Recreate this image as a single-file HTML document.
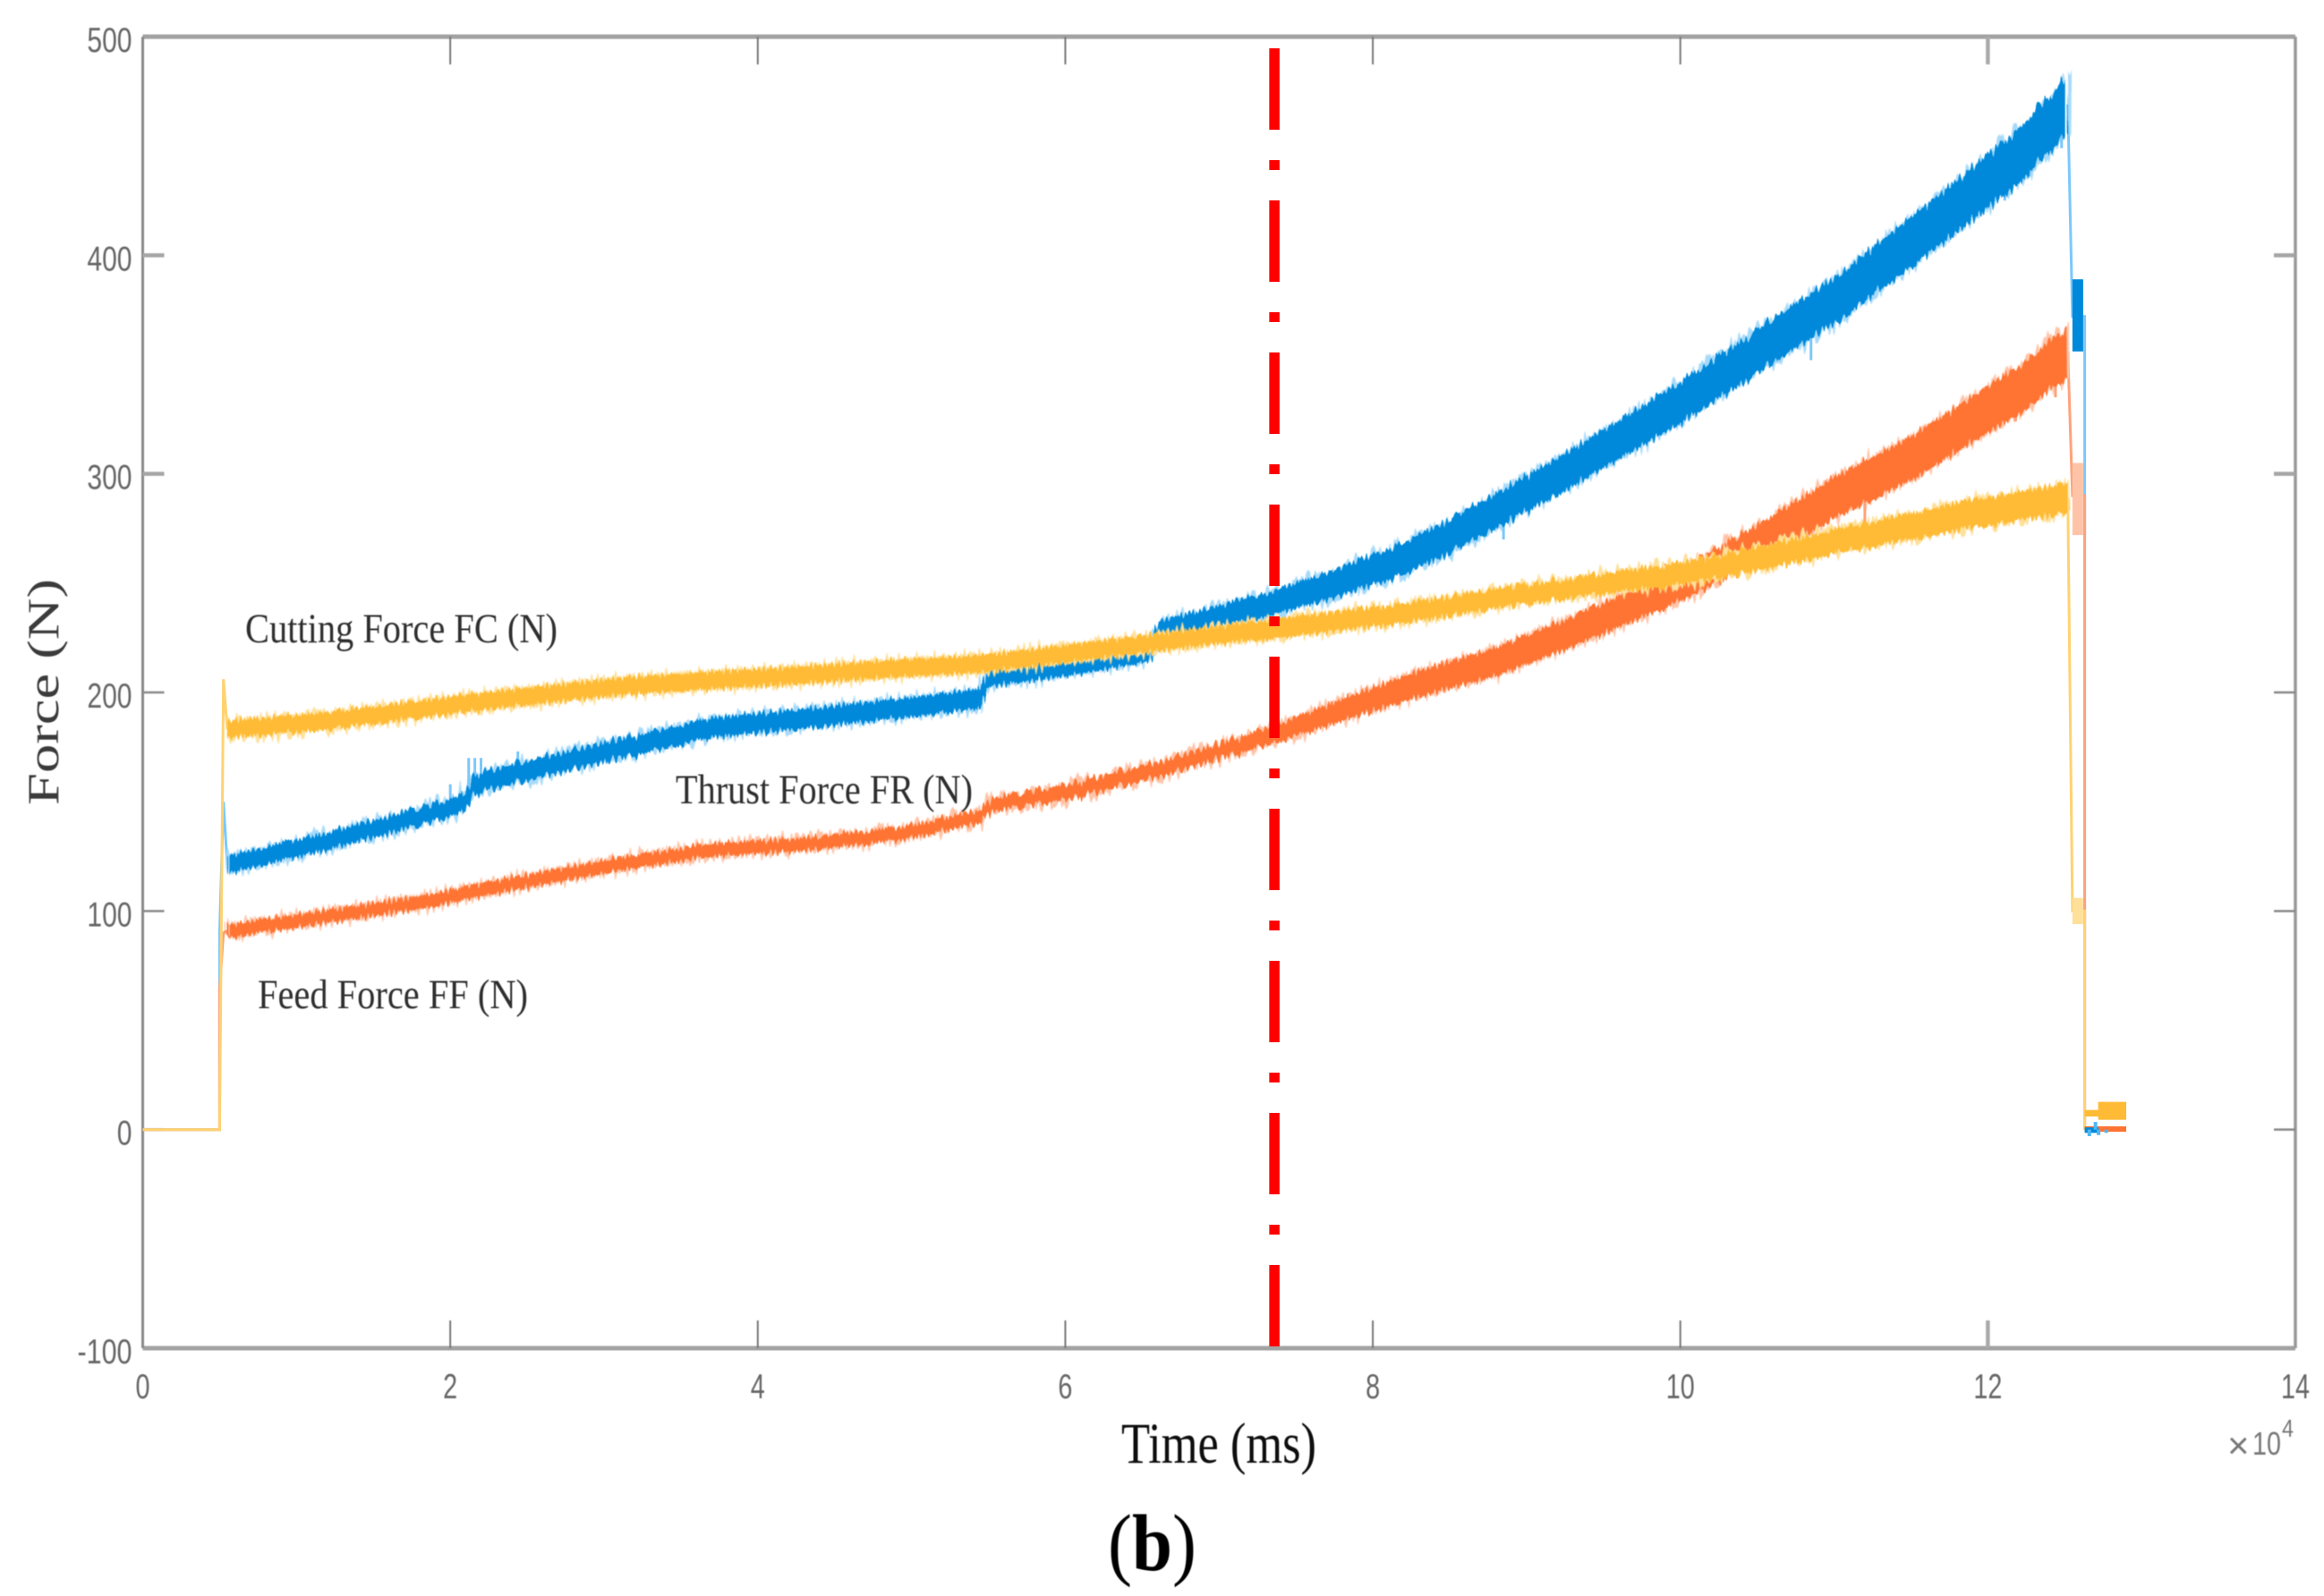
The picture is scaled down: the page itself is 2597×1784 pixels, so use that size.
<!DOCTYPE html>
<html lang="en">
<head>
<meta charset="utf-8">
<title>Force vs Time</title>
<style>
html,body{margin:0;padding:0;background:#fff;width:2597px;height:1784px;overflow:hidden}
svg{display:block;position:absolute;left:0;top:0}
.tick-label{font-family:"Liberation Sans",sans-serif;font-size:39px;fill:#666}
.serif{font-family:"Liberation Serif",serif}
</style>
</head>
<body>
<svg id="chart" xmlns="http://www.w3.org/2000/svg" width="2597" height="1784" viewBox="0 0 2597 1784">
  <defs>
    <filter id="jagCore" x="-2%" y="-8%" width="104%" height="116%" color-interpolation-filters="sRGB">
      <feTurbulence type="fractalNoise" baseFrequency="0.38 0.004" numOctaves="1" seed="4" result="n"/>
      <feDisplacementMap in="SourceGraphic" in2="n" scale="18" xChannelSelector="A" yChannelSelector="R"/>
      <feGaussianBlur stdDeviation="0.6"/>
    </filter>
    <filter id="jagFringe" x="-2%" y="-8%" width="104%" height="116%" color-interpolation-filters="sRGB">
      <feTurbulence type="fractalNoise" baseFrequency="0.3 0.004" numOctaves="1" seed="11" result="n"/>
      <feDisplacementMap in="SourceGraphic" in2="n" scale="30" xChannelSelector="A" yChannelSelector="G"/>
      <feGaussianBlur stdDeviation="0.8"/>
    </filter>
    <filter id="soft" x="-5%" y="-5%" width="110%" height="110%">
      <feGaussianBlur stdDeviation="0.6"/>
    </filter>
  </defs>
  <rect width="2597" height="1784" fill="#fff"/>
  <g id="axes" filter="url(#soft)"></g>
  <g id="marks"></g>
  <g id="labels" filter="url(#soft)"></g>
  <g id="marker"></g>
  <g filter="url(#soft)" class="serif">
    <text x="274" y="718" font-size="47" fill="#2d2d2d" textLength="349" lengthAdjust="spacingAndGlyphs">Cutting Force FC (N)</text>
    <text x="755" y="898" font-size="47" fill="#2d2d2d" textLength="332" lengthAdjust="spacingAndGlyphs">Thrust Force FR (N)</text>
    <text x="288" y="1127" font-size="47" fill="#2d2d2d" textLength="302" lengthAdjust="spacingAndGlyphs">Feed Force FF (N)</text>
    <text transform="translate(65 900) rotate(-90)" font-size="50" fill="#3a3a3a" textLength="253" lengthAdjust="spacingAndGlyphs">Force (N)</text>
    <text x="1253" y="1635" font-size="65" fill="#111" textLength="218" lengthAdjust="spacingAndGlyphs">Time (ms)</text>
    <text x="1238" y="1755" font-size="90" fill="#000" textLength="99" lengthAdjust="spacingAndGlyphs">(<tspan font-weight="bold">b</tspan>)</text>
  </g>
  <g filter="url(#soft)" font-family="'Liberation Sans',sans-serif" fill="#777">
    <text x="2489" y="1630" font-size="42">×</text>
    <text x="2517" y="1626" font-size="36" textLength="32" lengthAdjust="spacingAndGlyphs">10</text>
    <text x="2550" y="1606" font-size="28" textLength="13" lengthAdjust="spacingAndGlyphs">4</text>
  </g>
</svg>
<script>
// ---- Data (time in units of 1e4 ms, force in N) ----
const timeGrid = [0.55,1.2,1.9,2.08,2.15,2.6,3.15,3.7,4.3,4.9,5.44,5.5,6.05,6.5,6.56,6.62,6.95,7.36,7.8,8.3,8.8,9.3,10,10.5,11,11.5,11.9,12.2,12.52];
const thrustForce = [121,132,145,149,158,166,175,184,188,192.5,197,207,212.5,218,220,228,234,241,251,264,283,303,332.5,356,379,406,428,445,469];
const feedForce = [91,97.5,105,108,109,115,122,128,130.5,135,143,148,155,163,164,165,172,181,192,204,214,228,249,268,289,307,325,338,356];
const cuttingForce = [183,187,193,195,195.5,199,203,205.5,208,211,213,213.5,218,222,222.5,223,226,229,233,237,243,248,254,261,269,276,282,285,289];
const thrustSpread = [4,4,4,4,4.5,4.5,4.5,4.5,4.5,4.5,4.5,4.5,4.5,4.5,4.5,5,5,5.5,6.5,7.5,8,8.5,9.5,10,10.5,11.5,12,12.5,13];
const feedSpread = [3,3,3,3,3,3,3,3,3,3,3,3,3.5,3.5,3.5,3.5,3.5,4,5,6,6.5,7,7.5,8.5,9.5,10,10.5,11,11.5];
const cuttingSpread = [4,4,4,4,4,4,4,4,4,4,4,4,4,4,4,4,4,4.5,4.5,4.5,4.5,4.5,5,5.5,5.5,6,6.5,6.5,7];

// approach transient: [time, force] steps before the steady band
const riseTime = [0,0.5,0.5,0.525,0.55];
const thrustRise = [0,0,90,150,121];
const feedRise = [0,0,64,90,91];
const cuttingRise = [0,0,0,206,183];

// withdrawal transient
const fallTime = [12.52,12.55,12.63,12.63];
const thrustFall = [469,372,372,0];
const feedFall = [356,290,290,0];
const cuttingFall = [289,100,100,0];

// short plateaus after the main cut: start, end, high, low
const tailTime = [12.55,12.62];
const thrustTail = [389,356];
const feedTail = [305,272];
const cuttingTail = [106,94];

// end-of-test residual
const residualTime = [12.63,12.9];
const cuttingResidualHigh = [12.7,4.5];
const feedResidualHigh = [1.5,-1];
const thrustResidualTime = [12.63,12.72];
const thrustResidualHigh = [1,-1.5];
const thrustSpeckTime = [12.66,12.7,12.72,12.77];
const thrustSpeckTip = [-3,3.5,-2.5,-1.5];

// individual spikes: time and tip force
const thrustSpikeTime = [2.0,2.12,2.16,2.2,2.44,12.11,12.27,12.41,12.48,10.85,8.85];
const thrustSpikeTip = [158,170,170,170,173,425,436,448,449,352,270];
const feedSpikeTime = [12.18,12.44,11.2,9.9];
const feedSpikeTip = [324,335,277,259];

const markerTime = [7.36];

const xTicks = [0,2,4,6,8,10,12,14];
const yTicks = [-100,0,100,200,300,400,500];

// ---- Axis functions ----
const left = 159.5, right = 2565, top_ = 41, bottom = 1507;
const xMin = 0, xMax = 14, yMin = -100, yMax = 500;
function xs(t){ return left + (t - xMin) / (xMax - xMin) * (right - left); }
function ys(v){ return bottom - (v - yMin) / (yMax - yMin) * (bottom - top_); }
const NS = 'http://www.w3.org/2000/svg';
function make(tag, parent, attrs){
  const el = document.createElementNS(NS, tag);
  for (const k in attrs) el.setAttribute(k, attrs[k]);
  parent.appendChild(el);
  return el;
}
function interp(t, values){
  for (let i = 1; i < timeGrid.length; i++){
    if (t <= timeGrid[i]){
      const f = (t - timeGrid[i-1]) / (timeGrid[i] - timeGrid[i-1]);
      return values[i-1] + f * (values[i] - values[i-1]);
    }
  }
  return values[values.length - 1];
}
function bandPoints(values, spread, extra){
  const up = timeGrid.map((t,i) => xs(t).toFixed(1) + ',' + ys(values[i] + spread[i] + extra).toFixed(1));
  const dn = timeGrid.map((t,i) => xs(t).toFixed(1) + ',' + ys(values[i] - spread[i] - extra).toFixed(1)).reverse();
  return up.concat(dn).join(' ');
}
function linePoints(times, values){
  return times.map((t,i) => xs(t).toFixed(1) + ',' + ys(values[i]).toFixed(1)).join(' ');
}

// ---- Series ----
const marks = document.getElementById('marks');
const seriesList = [
  {key:'thrust', core:'#0089da', pale:'#a6daf9', thin:'#7cc8fb', v:thrustForce, s:thrustSpread, rise:thrustRise, fall:thrustFall, tail:thrustTail, spikeT:thrustSpikeTime, spikeV:thrustSpikeTip},
  {key:'feed', core:'#ff7433', pale:'#ffc4a8', thin:'#ffa27c', v:feedForce, s:feedSpread, rise:feedRise, fall:feedFall, tail:feedTail, spikeT:feedSpikeTime, spikeV:feedSpikeTip},
  {key:'cutting', core:'#ffbb35', pale:'#ffe09a', thin:'#ffd271', v:cuttingForce, s:cuttingSpread, rise:cuttingRise, fall:cuttingFall, tail:cuttingTail, spikeT:[], spikeV:[]}
];
seriesList.forEach(function(sr){
  const g = make('g', marks, {});
  
  

  const rise = make('polyline', g, {points:linePoints(riseTime, sr.rise), fill:'none', stroke:sr.thin, 'stroke-width':3});
  
  

  const fall = make('polyline', g, {points:linePoints(fallTime, sr.fall), fill:'none', stroke:sr.thin, 'stroke-width':3});
  
  

  const fringe = make('polygon', g, {points:bandPoints(sr.v, sr.s, 0.8), fill:sr.pale, filter:'url(#jagFringe)'});
  
  

  sr.spikeT.forEach(function(t,i){
    const sp = make('line', g, {x1:xs(t), x2:xs(t), y1:ys(interp(t, sr.v)), y2:ys(sr.spikeV[i]), stroke:sr.thin, 'stroke-width':3});
    
    
  });

  const core = make('polygon', g, {points:bandPoints(sr.v, sr.s, 0), fill:sr.core, filter:'url(#jagCore)'});
  
  

  const tail = make('rect', g, {x:xs(tailTime[0]), width:xs(tailTime[1]) - xs(tailTime[0]), y:ys(sr.tail[0]), height:ys(sr.tail[1]) - ys(sr.tail[0]), fill:sr.key === 'thrust' ? sr.core : sr.pale});
  
  
});

// residual after the tool exits
const feedResidual = make('rect', marks, {x:xs(residualTime[0]), width:xs(residualTime[1]) - xs(residualTime[0]), y:ys(feedResidualHigh[0]), height:ys(feedResidualHigh[1]) - ys(feedResidualHigh[0]), fill:'#ff7433'});


const thrustResidual = make('rect', marks, {x:xs(thrustResidualTime[0]), width:xs(thrustResidualTime[1]) - xs(thrustResidualTime[0]), y:ys(thrustResidualHigh[0]), height:ys(thrustResidualHigh[1]) - ys(thrustResidualHigh[0]), fill:'#0089da'});


thrustSpeckTime.forEach(function(t,i){
  const sp = make('line', marks, {x1:xs(t), x2:xs(t), y1:ys(0), y2:ys(thrustSpeckTip[i]), stroke:'#4db8f5', 'stroke-width':4});
  
  
});
const cuttingResidual = make('rect', marks, {x:xs(residualTime[0]) + 15, width:xs(residualTime[1]) - xs(residualTime[0]) - 15, y:ys(cuttingResidualHigh[0]), height:ys(cuttingResidualHigh[1]) - ys(cuttingResidualHigh[0]), fill:'#ffbb35'});


const cuttingResidualLead = make('rect', marks, {x:xs(residualTime[0]), width:16, y:ys(9), height:ys(6) - ys(9), fill:'#ffbb35'});



// ---- Axes ----
const axes = document.getElementById('axes');
const frameTop = make('line', axes, {x1:left, x2:right, y1:top_, y2:top_, stroke:'#a2a2a2', 'stroke-width':5});


const frameBottom = make('line', axes, {x1:left, x2:right, y1:bottom, y2:bottom, stroke:'#a2a2a2', 'stroke-width':5});


const frameLeft = make('line', axes, {x1:left, x2:left, y1:top_, y2:bottom, stroke:'#888', 'stroke-width':3});


const frameRight = make('line', axes, {x1:right, x2:right, y1:top_, y2:bottom, stroke:'#999', 'stroke-width':3.5});



const labels = document.getElementById('labels');
xTicks.forEach(function(t){
  const w = t === 12 ? 4.5 : 2;
  const col = t === 12 ? '#aaa' : '#777';
  if (t > xMin && t < xMax){
    const a = make('line', axes, {x1:xs(t), x2:xs(t), y1:bottom, y2:bottom - 31, stroke:col, 'stroke-width':w});
    
    
    const b = make('line', axes, {x1:xs(t), x2:xs(t), y1:top_, y2:top_ + 31, stroke:col, 'stroke-width':w});
    
    
  }
  const s = String(t);
  const lab = make('text', labels, {x:xs(t), y:1563, 'text-anchor':'middle', class:'tick-label', textLength:s.length * 16, lengthAdjust:'spacingAndGlyphs'});
  
  
  lab.textContent = s;
});
yTicks.forEach(function(v){
  const thick = v === 300 || v === 400;
  const w = thick ? 4.5 : 2.5;
  const col = thick ? '#a5a5a5' : '#888';
  if (v > yMin && v < yMax){
    const a = make('line', axes, {x1:left, x2:left + 24, y1:ys(v), y2:ys(v), stroke:col, 'stroke-width':w});
    
    
    const b = make('line', axes, {x1:right, x2:right - 24, y1:ys(v), y2:ys(v), stroke:col, 'stroke-width':w});
    
    
  }
  const s = String(v);
  const len = v < 0 ? 61 : s.length * 16.7;
  const lab = make('text', labels, {x:147.5, y:ys(v) + 17, 'text-anchor':'end', class:'tick-label', textLength:len, lengthAdjust:'spacingAndGlyphs'});
  
  
  lab.textContent = s;
});

// ---- Red dash-dot time marker ----
const markerLayer = document.getElementById('marker');
const markerLine = make('line', markerLayer, {x1:xs(markerTime[0]), x2:xs(markerTime[0]), y1:54, y2:1505, stroke:'#ff0000', 'stroke-width':11.5, 'stroke-dasharray':'91 34 11 34'});


</script>
</body>
</html>
